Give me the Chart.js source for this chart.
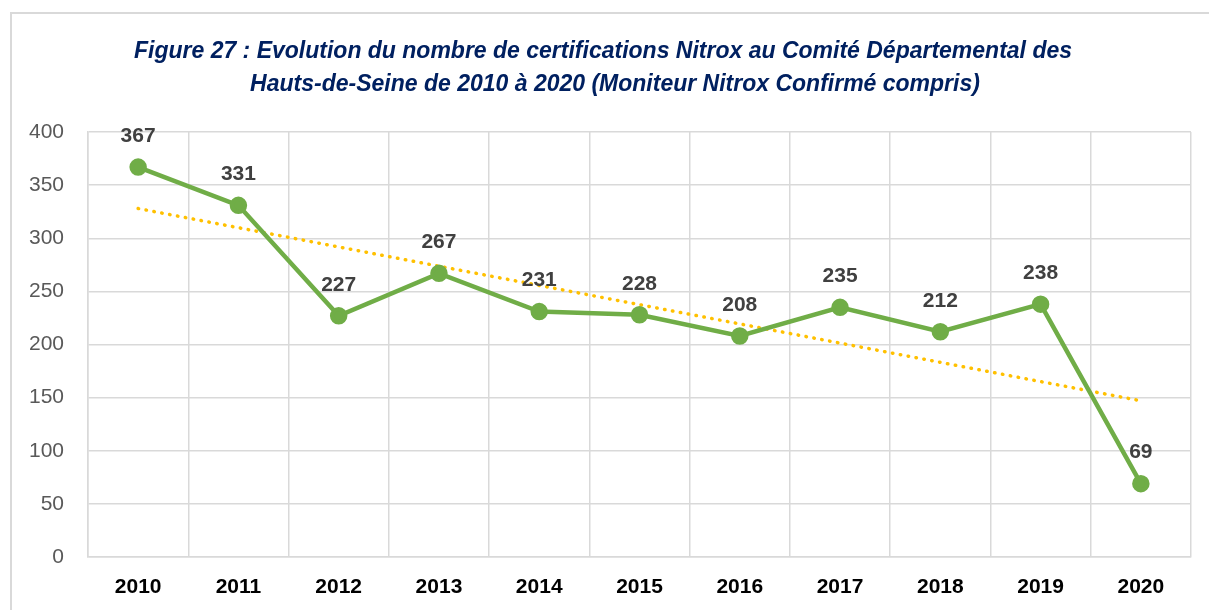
<!DOCTYPE html>
<html lang="fr">
<head>
    <meta charset="UTF-8">
    <title>Certifications Nitrox</title>
    <script src="https://cdn.jsdelivr.net/npm/chart.js"></script>
    <style>
        body {
            margin: 0;
            padding: 0;
            background: #ffffff;
        }
        #wrap {
            position: relative;
            width: 1209px;
            height: 610px;
        }
    </style>
</head>
<body>
    <div id="wrap">
        <canvas id="nitroxChart" width="1209" height="610"></canvas>
    </div>
    <script>
        // données
        const annees = ['2010', '2011', '2012', '2013', '2014', '2015', '2016', '2017', '2018', '2019', '2020'];
        const certifications = [367, 331, 227, 267, 231, 228, 208, 235, 212, 238, 69];
        // courbe de tendance : seulement les deux extrémités
        const tendance = [328, null, null, null, null, null, null, null, null, null, 147];
        const yTicks = [0, 50, 100, 150, 200, 250, 300, 350, 400];

        const titreLignes = [
            'Figure 27 : Evolution du nombre de certifications Nitrox au Comité Départemental des',
            'Hauts-de-Seine de 2010 à 2020 (Moniteur Nitrox Confirmé compris)'
        ];

        // cadre + titre + étiquettes de valeurs
        const decor = {
            id: 'decor',
            beforeDraw(chart) {
                const c = chart.ctx;
                c.save();
                c.strokeStyle = '#d9d9d9';
                c.lineWidth = 2;
                c.strokeRect(11, 13, 1220, 620);
                c.restore();
            },
            afterDatasetsDraw(chart) {
                const c = chart.ctx;
                c.save();
                // titre
                c.fillStyle = '#002060';
                c.textAlign = 'center';
                c.textBaseline = 'middle';
                c.font = 'italic bold 23px "Liberation Sans", sans-serif';
                c.fillText(titreLignes[0], 603, 52);
                c.fillText(titreLignes[1], 615, 85);
                // valeurs
                const meta = chart.getDatasetMeta(0);
                c.fillStyle = '#404040';
                c.font = 'bold 21px "Liberation Sans", sans-serif';
                meta.data.forEach((pt, i) => {
                    c.fillText(String(certifications[i]), pt.x, pt.y - 31);
                });
                c.restore();
            }
        };

        const ctx = document.getElementById('nitroxChart').getContext('2d');
        const nitroxChart = new Chart(ctx, {
            type: 'line',
            data: {
                labels: annees,
                datasets: [{
                    label: 'Certifications',
                    data: certifications,
                    borderColor: '#70AD47',
                    backgroundColor: '#70AD47',
                    borderWidth: 4.5,
                    pointRadius: 6.5,
                    pointHoverRadius: 6.5,
                    tension: 0,
                    order: 1
                }, {
                    label: 'Tendance',
                    data: tendance,
                    borderColor: '#FFC000',
                    borderWidth: 3.5,
                    borderDash: [0.5, 7.5],
                    borderCapStyle: 'round',
                    pointRadius: 0,
                    spanGaps: true,
                    fill: false,
                    order: 2
                }]
            },
            options: {
                responsive: false,
                animation: false,
                layout: {
                    padding: { top: 132, left: 0, right: 18, bottom: 0 }
                },
                plugins: {
                    legend: { display: false },
                    tooltip: { enabled: false },
                    title: { display: false }
                },
                scales: {
                    x: {
                        offset: true,
                        grid: {
                            offset: true,
                            color: '#d9d9d9',
                            lineWidth: 1.5,
                            drawTicks: false
                        },
                        border: { color: '#d9d9d9', width: 1.5 },
                        ticks: {
                            color: '#000000',
                            padding: 18,
                            font: { family: '"Liberation Sans", sans-serif', size: 21, weight: 'bold' }
                        },
                        afterFit(scale) { scale.height = 53; }
                    },
                    y: {
                        min: 0,
                        max: 400,
                        afterBuildTicks(scale) {
                            scale.ticks = yTicks.map(v => ({ value: v }));
                        },
                        grid: {
                            color: '#d9d9d9',
                            lineWidth: 1.5,
                            drawTicks: false
                        },
                        border: { color: '#d9d9d9', width: 1.5 },
                        ticks: {
                            color: '#595959',
                            padding: 24,
                            font: { family: '"Liberation Sans", sans-serif', size: 21 }
                        },
                        afterFit(scale) { scale.width = 88; }
                    }
                }
            },
            plugins: [decor]
        });
    </script>
</body>
</html>
